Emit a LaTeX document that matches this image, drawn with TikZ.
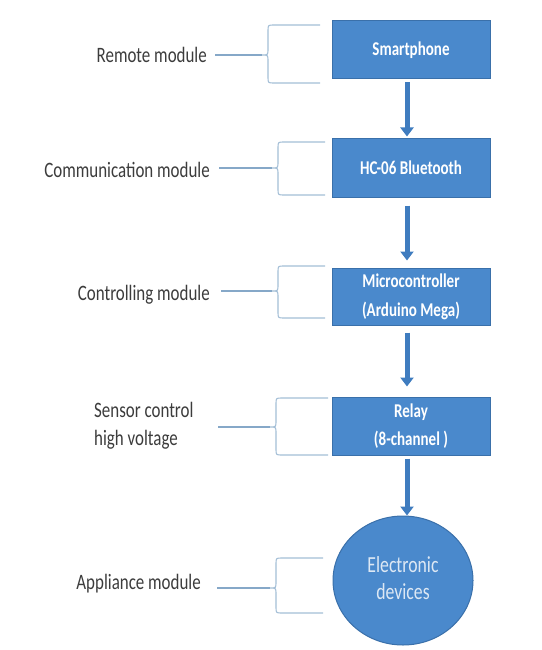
\documentclass[tikz,border=0pt]{standalone}
\usepackage{fontspec}
\setmainfont{Carlito}
\usetikzlibrary{arrows.meta,shapes.geometric}
\definecolor{boxfill}{HTML}{4A89CC}
\definecolor{boxdraw}{HTML}{3A70AA}
\definecolor{arrcol}{HTML}{3F7CBF}
\definecolor{brccol}{HTML}{A3BED6}
\definecolor{lnkcol}{HTML}{86A8C8}
\definecolor{labcol}{HTML}{3C3C3C}
\definecolor{elltext}{HTML}{DDE8F4}
\newcommand{\sqz}[1]{\scalebox{0.77}[1]{#1}}
\newcommand{\sqc}[1]{\scalebox{0.77}[1]{\begin{tabular}{@{}c@{}}#1\end{tabular}}}
\newcommand{\sql}[1]{\scalebox{0.77}[1]{\begin{tabular}{@{}l@{}}#1\end{tabular}}}
\tikzset{
  box/.style={draw=boxdraw, line width=1pt, fill=boxfill, text=white, minimum width=158pt,
    font=\fontsize{19.5}{28.5}\selectfont\bfseries, align=center, inner sep=0pt},
  devnode/.style={ellipse, draw=boxdraw, line width=1pt, fill=boxfill, text=elltext,
    minimum width=140pt, minimum height=129pt, inner sep=0pt,
    font=\fontsize{23}{27}\selectfont, align=center},
  arr/.style={draw=arrcol, line width=5pt, -{Triangle[width=13pt,length=9pt]}},
  lab/.style={text=labcol, font=\fontsize{22}{28}\selectfont, inner sep=0pt},
  lnk/.style={draw=lnkcol, line width=1.4pt},
  brcline/.style={draw=brccol, line width=1.1pt},
  pics/brc/.style n args={3}{code={
    \draw[brcline] (#3,-#1) -- (12,-#1) .. controls (6,-#1) .. ({6},{-#1+6}) -- (6,-6)
      .. controls (6,0) .. (0,0) .. controls (6,0) .. (6,6) -- ({6},{#2-6})
      .. controls (6,#2) .. (12,#2) -- (#3,#2);
  }}
}
\begin{document}
\begin{tikzpicture}[x=1pt,y=-1pt]
\useasboundingbox (0,0) rectangle (541,650);
% boxes
\node[box, minimum height=58pt] (sp) at (411,50) {\sqz{Smartphone}};
\node[box, minimum height=59pt] (hc) at (411,167.5) {\sqz{HC-06 Bluetooth}};
\node[box, minimum height=57pt] (mc) at (411,296.5) {\sqc{Microcontroller\\(Arduino Mega)}};
\node[box, minimum height=58pt] (rl) at (411,426) {\sqc{Relay\\(8-channel )}};
\node[devnode] (ed) at (403,580.5) {\sqc{Electronic\\devices}};
% arrows
\draw[arr, shorten <=3pt, shorten >=1pt] ([xshift=-4pt]sp.south) -- ([xshift=-4pt]hc.north);
\draw[arr, shorten <=8pt, shorten >=7pt] ([xshift=-4pt]hc.south) -- ([xshift=-4pt]mc.north);
\draw[arr, shorten <=7pt, shorten >=10pt] ([xshift=-4pt]mc.south) -- ([xshift=-4pt]rl.north);
\draw[arr, shorten <=3pt, shorten >=0pt] ([xshift=-4pt]rl.south) -- ([xshift=-4pt]rl.south |- ed.north);
% labels
\node[lab, anchor=east] (l1) at (207,55) {\sqz{Remote module}};
\node[lab, anchor=east] (l2) at (210,170) {\sqz{Communication module}};
\node[lab, anchor=east] (l3) at (210,295) {\sqz{Controlling module}};
\node[lab, anchor=west] (l4) at (94,426) {\sql{Sensor control\\high voltage}};
\node[lab, anchor=east] (l5) at (201,584) {\sqz{Appliance module}};
% brace tips
\coordinate (t1) at (262,55);
\coordinate (t2) at (272,168);
\coordinate (t3) at (272,291);
\coordinate (t4) at (270,427);
\coordinate (t5) at (270,588);
% braces
\pic at (t1) {brc={30}{28}{58}};
\pic at (t2) {brc={26}{27}{53}};
\pic at (t3) {brc={25}{27}{53}};
\pic at (t4) {brc={29}{28}{58}};
\pic at (t5) {brc={30}{25}{53}};
% links
\draw[lnk, shorten <=8pt] (l1.east |- t1) -- (t1);
\draw[lnk, shorten <=9pt] (l2.east |- t2) -- (t2);
\draw[lnk, shorten <=11pt] (l3.east |- t3) -- (t3);
\draw[lnk] (218,427) coordinate (s4) -- (t4);
\draw[lnk, shorten <=16pt] (l5.east |- t5) -- (t5);
\end{tikzpicture}
\end{document}
